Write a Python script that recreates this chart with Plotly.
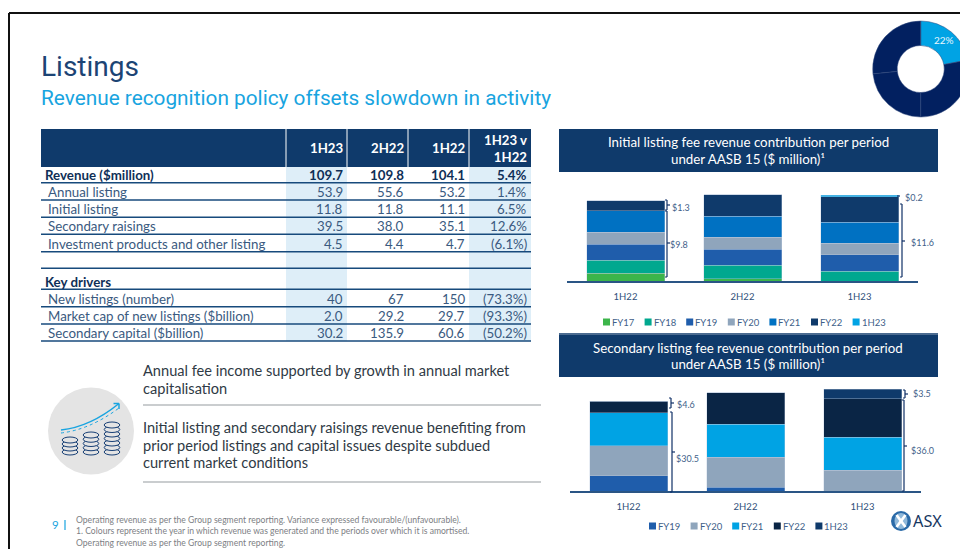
import plotly.graph_objects as go

W, H = 1000, 549
FONT = "Lato"
TITLE_FONT = "Roboto"
NAVY = "#0f3a6b"
CYAN = "#00a3e4"

# ---------- data ----------
periods = ["1H22", "2H22", "1H23"]

initial_series = ["FY17", "FY18", "FY19", "FY20", "FY21", "FY22", "1H23"]
initial_values = {
    "FY17": [1.05, 0.30, 0.0],
    "FY18": [1.83, 1.83, 1.37],
    "FY19": [2.19, 2.24, 2.20],
    "FY20": [1.65, 1.60, 1.60],
    "FY21": [2.93, 2.88, 2.88],
    "FY22": [1.33, 2.97, 3.48],
    "1H23": [0.0, 0.0, 0.22],
}
initial_colors = {"FY17": "#3cb54a", "FY18": "#00a88f", "FY19": "#1f5dab", "FY20": "#8fa5bc",
                  "FY21": "#0071c2", "FY22": "#0f3a6b", "1H23": "#00a3e4"}

secondary_series = ["FY19", "FY20", "FY21", "FY22", "1H23"]
secondary_values = {
    "FY19": [5.96, 1.42, 0.0],
    "FY20": [11.66, 11.66, 8.03],
    "FY21": [12.82, 12.95, 12.95],
    "FY22": [4.53, 12.18, 14.90],
    "1H23": [0.0, 0.0, 3.63],
}
secondary_colors = {"FY19": "#1f5dab", "FY20": "#8fa5bc", "FY21": "#00a3e4",
                    "FY22": "#0a2545", "1H23": "#0f3a6b"}

donut_values = [22, 28, 23.4, 26.6]
donut_text = ["22%", "", "", ""]

table_head = ["1H23", "2H22", "1H22", "1H23 v<br>1H22"]
table_labels = ["Revenue ($million)", "Annual listing", "Initial listing", "Secondary raisings",
                "Investment products and other listing", "", "Key drivers", "New listings (number)",
                "Market cap of new listings ($billion)", "Secondary capital ($billion)"]
table_1h23 = ["109.7", "53.9", "11.8", "39.5", "4.5", "", "", "40", "2.0", "30.2"]
table_2h22 = ["109.8", "55.6", "11.8", "38.0", "4.4", "", "", "67", "29.2", "135.9"]
table_1h22 = ["104.1", "53.2", "11.1", "35.1", "4.7", "", "", "150", "29.7", "60.6"]
table_var = ["5.4%", "1.4%", "6.5%", "12.6%", "(6.1%)", "", "", "(73.3%)", "(93.3%)", "(50.2%)"]
bold_rows = [0, 6]

# ---------- helpers ----------
shapes, annots = [], []
def X(x): return x / W
def Y(y): return 1 - y / H

def rect(x0, y0, x1, y1, fill, line=None, lw=0):
    shapes.append(dict(type="rect", xref="paper", yref="paper", x0=X(x0), x1=X(x1), y0=Y(y0), y1=Y(y1),
                       fillcolor=fill, line=dict(color=line or fill, width=lw), layer="below"))

def line(x0, y0, x1, y1, color, w=1.0, layer="above", dash=None):
    shapes.append(dict(type="line", xref="paper", yref="paper", x0=X(x0), x1=X(x1), y0=Y(y0), y1=Y(y1),
                       line=dict(color=color, width=w, dash=dash), layer=layer))

def ell(cx, cy, rx, ry, fill, lc=None, lw=0):
    shapes.append(dict(type="circle", xref="paper", yref="paper", x0=X(cx - rx), x1=X(cx + rx),
                       y0=Y(cy + ry), y1=Y(cy - ry), fillcolor=fill,
                       line=dict(color=lc or fill, width=lw), layer="above"))

def text(x, y, s, size, color, anchor="left", bold=False, family=None):
    annots.append(dict(x=X(x), y=Y(y), xref="paper", yref="paper", xanchor=anchor, yanchor="middle",
                       showarrow=False, text=f"<b>{s}</b>" if bold else s, align=anchor,
                       font=dict(size=size, color=color, family=family or FONT),
                       borderpad=0, borderwidth=0))

# ---------- slide frame ----------
line(9, 13, 1000, 13, "#111111", 2)
line(9, 13, 9, 549, "#111111", 2)

# ---------- titles ----------
text(41, 66, "Listings", 28, "#1c4474", family=TITLE_FONT)
text(41, 98, "Revenue recognition policy offsets slowdown in activity", 20.8, "#18a4e0", family=TITLE_FONT)

# ---------- table ----------
rect(286, 167, 347, 341, "#deeef8")
rect(469, 167, 531, 341, "#deeef8")
rect(41, 129, 531, 167, NAVY)
for xc in (286, 347, 408, 469):
    line(xc, 129, xc, 167, "#ffffff", 1)
cols_right = [343, 404, 465, 527]
for xr, h in zip(cols_right, table_head):
    text(xr, 148, h, 13.2, "#ffffff", "right", True)
row_bottom = [182.7, 200, 217.3, 234.3, 251.7, 268.3, 289.3, 306.7, 324, 341]
row_mid = [175, 192, 209, 226, 244, 0, 282, 299, 316, 333]
for i, lab in enumerate(table_labels):
    line(41, row_bottom[i], 531, row_bottom[i], "#174a7c", 1.5)
    bold = i in bold_rows
    if lab:
        text(45 if bold else 48, row_mid[i], lab, 13.3, "#0f2f57" if bold else "#3a5a80", "left", bold)
    for xr, arr in zip(cols_right, (table_1h23, table_2h22, table_1h22, table_var)):
        if arr[i]:
            text(xr, row_mid[i], arr[i], 13.3, "#0f2f57" if bold else "#3a5a80", "right", bold)

# ---------- chart headers ----------
rect(559, 129, 938, 172, NAVY)
text(748, 142, "Initial listing fee revenue contribution per period", 13.3, "#ffffff", "center")
text(748, 159, "under AASB 15 ($ million)¹", 13.3, "#ffffff", "center")
line(559, 334, 938, 334, NAVY, 1.5)
rect(559, 335, 938, 377, NAVY)
text(748, 348, "Secondary listing fee revenue contribution per period", 13.3, "#ffffff", "center")
text(748, 364, "under AASB 15 ($ million)¹", 13.3, "#ffffff", "center")

# ---------- brackets ----------
BR = "#0f2f66"
LB = "#3f5f8a"
def bracket(x, y0, y1, ym, label, lx, ly):
    line(x, y0, x, y1, BR, 1.2)
    line(x - 2, y0, x, y0, BR, 1)
    line(x - 2, y1, x, y1, BR, 1)
    line(x, ym, x + 3, ym, BR, 1.2)
    text(lx, ly, label, 9, LB)

bracket(667, 200, 210, 205, "$1.3", 672, 207)
bracket(667, 211, 277, 243, "$9.8", 670, 244)
line(897, 196, 900, 196, BR, 1.2)
text(905, 198, "$0.2", 9, LB)
bracket(902, 204, 277, 241, "$11.6", 911, 242)
bracket(671, 398, 408, 403, "$4.6", 677, 404)
bracket(672, 412, 492, 452, "$30.5", 676, 458)
bracket(905, 390, 398, 394, "$3.5", 913, 394)
bracket(904, 400, 491, 446, "$36.0", 911, 450)

# ---------- hand placed legends ----------
def legend(names, colors, x0, y):
    for i, n in enumerate(names):
        xs = x0 + i * 41.6
        rect(xs, y - 3.5, xs + 7, y + 3.5, colors[n])
        text(xs + 9, y, n, 9.5, "#3f5f8a")
legend(initial_series, initial_colors, 603, 322)
legend(secondary_series, secondary_colors, 649, 526)

# ---------- commentary ----------
BODY = "#2f3a45"
text(143, 370, "Annual fee income supported by growth in annual market", 14.6, BODY)
text(143, 388, "capitalisation", 14.6, BODY)
line(143, 405, 541, 405, "#b9bcbf", 1.5)
text(143, 427, "Initial listing and secondary raisings revenue benefiting from", 14.6, BODY)
text(143, 445, "prior period listings and capital issues despite subdued", 14.6, BODY)
text(143, 462, "current market conditions", 14.6, BODY)
line(143, 482, 541, 482, "#b9bcbf", 1.5)

# icon
ell(91, 431, 43, 43.5, "#e4e4e4")
for cx, top, n in ((70, 440, 4), (91, 435, 5), (112, 425, 7)):
    for k in range(n - 1, -1, -1):
        ell(cx, top + k * (452 - top) / (n - 1), 7.8, 3, "#e4e4e4", "#173f75", 1)
shapes.append(dict(type="path", xref="paper", yref="paper",
                   path=f"M {X(61)} {Y(430)} Q {X(90)} {Y(427)} {X(119)} {Y(403.5)}",
                   line=dict(color="#18a4e0", width=1.5), layer="above"))
shapes.append(dict(type="path", xref="paper", yref="paper",
                   path=f"M {X(61)} {Y(433)} Q {X(90)} {Y(429.6)} {X(119)} {Y(408)}",
                   line=dict(color="#18a4e0", width=1, dash="dot"), layer="above"))
line(119, 403.5, 113.5, 403.5, "#18a4e0", 1.5)
line(119, 403.5, 119, 409, "#18a4e0", 1.5)

# ---------- footer ----------
text(52, 524, "9", 11.5, "#18a4e0")
line(65, 520, 65, 530, "#18a4e0", 1.2)
FOOT = "#7d8084"
text(76, 520, "Operating revenue as per the Group segment reporting. Variance expressed favourable/(unfavourable).", 8.6, FOOT)
text(76, 531, "1. Colours represent the year in which revenue was generated and the periods over which it is amortised.", 8.6, FOOT)
text(76, 543, "Operating revenue as per the Group segment reporting.", 8.6, FOOT)

# ---------- logo ----------
ell(901, 521, 10, 10, "#2a6aa8")
ell(901, 521, 6.5, 8, "#8fb8da")
line(896.5, 515, 905.5, 527, "#ffffff", 2.6)
line(905.5, 515, 896.5, 527, "#ffffff", 2.6)
text(913, 521, "ASX", 16.3, "#16365f", family="Noto Sans")

# ---------- figure ----------
fig = go.Figure()
for name in initial_series:
    fig.add_bar(x=periods, y=initial_values[name], name=name, xaxis="x", yaxis="y",
                marker=dict(color=initial_colors[name], line=dict(color="rgba(190,205,225,0.6)", width=0.6)),
                showlegend=False)
for name in secondary_series:
    fig.add_bar(x=periods, y=secondary_values[name], name=name, xaxis="x2", yaxis="y2",
                marker=dict(color=secondary_colors[name], line=dict(color="rgba(190,205,225,0.6)", width=0.6)),
                showlegend=False)
fig.add_pie(values=donut_values, textinfo="none", hole=0.49, sort=False,
            direction="clockwise", rotation=0, showlegend=False,
            domain=dict(x=[X(920.7 - 48), X(920.7 + 48)], y=[Y(117), Y(21)]),
            marker=dict(colors=[CYAN, "#022060", "#022060", "#022060"],
                        line=dict(color="#30497c", width=0.5)))
text(944, 40, donut_text[0], 10, "#e8f6fd")

def xa(d0, d1, anchor):
    return dict(domain=[X(d0), X(d1)], anchor=anchor, type="category", categoryorder="array",
                categoryarray=periods, range=[-0.5, 2.5], showgrid=False, zeroline=False, showline=True,
                linecolor="#2a5585", linewidth=1.5, ticks="", ticklabelstandoff=6,
                tickfont=dict(size=9.5, color="#2f4f7a", family=FONT))
def ya(top, base, scale, anchor):
    return dict(domain=[Y(base), Y(top)], anchor=anchor, range=[0, (base - top) / scale],
                visible=False, showgrid=False, zeroline=False)

annots[-1]["xanchor"] = "center"
fig.update_layout(
    width=W, height=H, margin=dict(l=0, r=0, t=0, b=0, autoexpand=False),
    paper_bgcolor="#ffffff", plot_bgcolor="rgba(0,0,0,0)",
    barmode="stack", bargap=1 / 3,
    xaxis=xa(567, 918, "y"), yaxis=ya(190, 281, 7.29, "x"),
    xaxis2=xa(570, 921, "y2"), yaxis2=ya(385, 491, 2.573, "x2"),
    shapes=shapes, annotations=annots, font=dict(family=FONT),
)

fig.write_html("out.html", config=dict(displayModeBar=False),
               post_script="document.body.style.margin='0';document.body.style.overflow='hidden';document.documentElement.style.overflow='hidden';")
